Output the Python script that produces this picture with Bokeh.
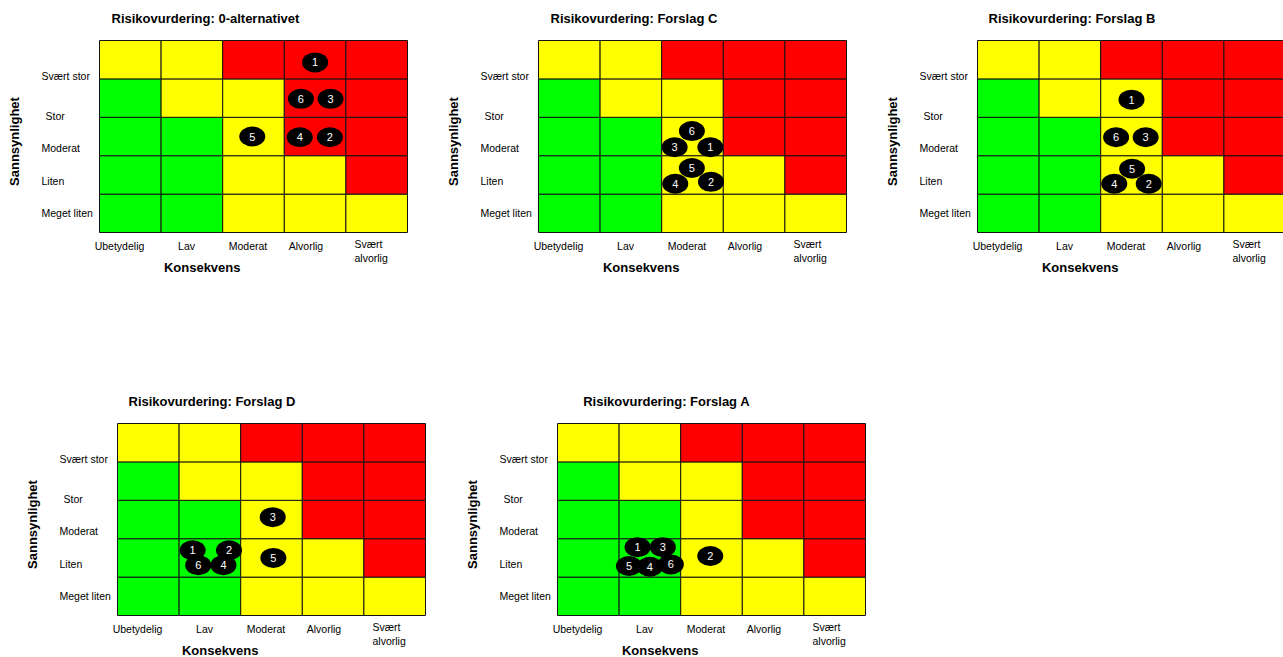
import math
from bokeh.plotting import figure
from bokeh.models import Range1d, Spacer
from bokeh.layouts import row, column
from bokeh.core.properties import value
from bokeh.embed import file_html
from bokeh.resources import INLINE

# ---------------- data ----------------
consequence_labels = ["Ubetydelig", "Lav", "Moderat", "Alvorlig", "Svært\nalvorlig"]
likelihood_labels = ["Meget liten", "Liten", "Moderat", "Stor", "Svært stor"]  # bottom -> top

# risk level per cell, rows bottom (Meget liten) -> top (Svært stor), columns Ubetydelig -> Svært alvorlig
risk_rows = [
    ["lav", "lav", "middels", "middels", "middels"],
    ["lav", "lav", "middels", "middels", "høy"],
    ["lav", "lav", "middels", "høy", "høy"],
    ["lav", "middels", "middels", "høy", "høy"],
    ["middels", "middels", "høy", "høy", "høy"],
]
risk_colors = {"lav": "#00ff00", "middels": "#ffff00", "høy": "#ff0000"}

point_ids = ["1", "2", "3", "4", "5", "6"]

# positions on 1..5 scales (konsekvens, sannsynlighet)
alt0_x = [4.00, 4.24, 4.25, 3.75, 2.98, 3.77]
alt0_y = [4.93, 2.98, 3.98, 2.98, 3.00, 3.98]

fc_x = [3.29, 3.30, 2.71, 2.72, 2.99, 2.99]
fc_y = [2.72, 1.82, 2.72, 1.77, 2.18, 3.14]

fb_x = [3.00, 3.28, 3.23, 2.72, 3.01, 2.75]
fb_y = [3.96, 1.77, 2.98, 1.77, 2.16, 2.98]

fd_x = [1.72, 2.31, 3.02, 2.22, 3.03, 1.81]
fd_y = [2.20, 2.20, 3.06, 1.81, 2.00, 1.81]

fa_x = [1.80, 2.98, 2.21, 2.00, 1.66, 2.34]
fa_y = [2.28, 2.05, 2.28, 1.77, 1.79, 1.83]

titles = [
    "Risikovurdering: 0-alternativet",
    "Risikovurdering: Forslag C",
    "Risikovurdering: Forslag B",
    "Risikovurdering: Forslag D",
    "Risikovurdering: Forslag A",
]
x_title = "Konsekvens"
y_title = "Sannsynlighet"

# ---------------- layout constants (pixels within a panel) ----------------
GX0, GY0 = 99.0, 40.0      # top-left corner of the grid
CW, CH = 61.6, 38.4        # cell size
TOP_H = 292
BOTTOM_Y0 = 383
BOTTOM_H = 657 - BOTTOM_Y0
FONT = "Liberation Sans"


def px_x(px):
    return 0.5 + (px - GX0) / CW


def px_y(py):
    return 5.5 - (py - GY0) / CH


def make_panel(title, xs, ys, width, height, title_px):
    p = figure(width=width, height=height,
               x_range=Range1d(px_x(0), px_x(width)),
               y_range=Range1d(px_y(height), px_y(0)),
               output_backend="svg", toolbar_location=None,
               x_axis_location=None, y_axis_location=None,
               min_border=0, outline_line_color=None,
               background_fill_color="white", border_fill_color="white")
    for g in p.grid:
        g.visible = False

    # cells
    cx, cy, cc = [], [], []
    for r, levels in enumerate(risk_rows):
        for c, lvl in enumerate(levels):
            cx.append(c + 1)
            cy.append(r + 1)
            cc.append(risk_colors[lvl])
    p.rect(x=cx, y=cy, width=1, height=1, fill_color=cc,
           line_color="#141414", line_width=1)

    # risk points
    p.ellipse(x=xs, y=ys, width=26 / CW, height=20 / CH,
              fill_color="black", line_color=None)
    p.text(x=xs, y=ys, text=point_ids, text_color="white",
           text_font=value(FONT), text_font_size="11px",
           text_align="center", text_baseline="middle")

    # title
    p.text(x=[px_x(title_px)], y=[px_y(18)], text=[title],
           text_font=value(FONT), text_font_size="13px", text_font_style="bold",
           text_align="left", text_baseline="middle", text_color="black")

    # likelihood labels (left aligned)
    ly_px = [212, 180, 147, 115, 75]
    lx_px = [41, 41, 41, 45, 41]
    p.text(x=[px_x(v) for v in lx_px], y=[px_y(v) for v in ly_px],
           text=likelihood_labels, text_font=value(FONT), text_font_size="10.5px",
           text_align="left", text_baseline="middle", text_color="black")

    # consequence labels
    cx_px = [119, 186, 247.5, 305.5]
    p.text(x=[px_x(v) for v in cx_px], y=[px_y(245.7)] * 4,
           text=consequence_labels[:4], text_font=value(FONT), text_font_size="10.5px",
           text_align="center", text_baseline="middle", text_color="black")
    p.text(x=[px_x(354)], y=[px_y(250.5)], text=consequence_labels[4:],
           text_font=value(FONT), text_font_size="10.5px", text_line_height=1.15,
           text_align="left", text_baseline="middle", text_color="black")

    # axis titles
    p.text(x=[px_x(201.7)], y=[px_y(267)], text=[x_title],
           text_font=value(FONT), text_font_size="13px", text_font_style="bold",
           text_align="center", text_baseline="middle", text_color="black")
    p.text(x=[px_x(14.3)], y=[px_y(141)], text=[y_title], angle=math.pi / 2,
           text_font=value(FONT), text_font_size="13px", text_font_style="bold",
           text_align="center", text_baseline="middle", text_color="black")
    return p


p1 = make_panel(titles[0], alt0_x, alt0_y, 439, TOP_H, 111)
p2 = make_panel(titles[1], fc_x, fc_y, 439, TOP_H, 111)
p3 = make_panel(titles[2], fb_x, fb_y, 405, TOP_H, 110)
p4 = make_panel(titles[3], fd_x, fd_y, 440, BOTTOM_H, 110)
p5 = make_panel(titles[4], fa_x, fa_y, 440, BOTTOM_H, 124.7)

layout = column(
    row(p1, p2, p3),
    Spacer(width=10, height=BOTTOM_Y0 - TOP_H),
    row(Spacer(width=18, height=BOTTOM_H), p4, p5),
)

with open("out.html", "w") as f:
    f.write(file_html(layout, INLINE))
